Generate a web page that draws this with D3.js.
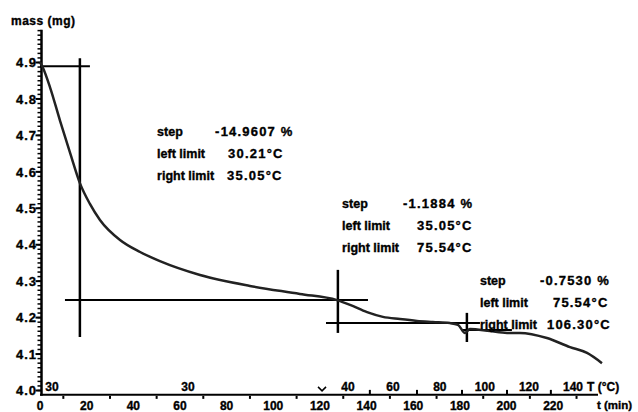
<!DOCTYPE html>
<html>
<head>
<meta charset="utf-8">
<script src="https://cdn.jsdelivr.net/npm/d3@7"></script>
<style>
body { margin: 0; background: #fff; }
text { font-family: "Liberation Sans", Arial, sans-serif; font-weight: bold; fill: #000; stroke: #000; stroke-width: 0.35px; }
</style>
</head>
<body>
<div id="chart"></div>
<script>
// TGA curve: mass (mg) against time (min)
var time = [0, 1.3, 4.3, 8.6, 12.9, 17.1, 21.4, 25.7, 34.3, 42.9, 51.4, 68.6, 90.0, 111.4, 127.3, 132.9, 140.2, 147.0, 154.3, 161.6, 168.4, 175.7, 179.2, 182.2, 184.3, 192.9, 200.2, 205.7, 217.3, 227.2, 234.5, 240.9];
var mass = [4.901, 4.885, 4.832, 4.740, 4.652, 4.569, 4.512, 4.468, 4.413, 4.380, 4.355, 4.317, 4.287, 4.265, 4.248, 4.235, 4.215, 4.202, 4.196, 4.191, 4.188, 4.185, 4.180, 4.158, 4.169, 4.163, 4.158, 4.158, 4.144, 4.119, 4.103, 4.075];

// axis ticks
var massTicks = [4.0, 4.1, 4.2, 4.3, 4.4, 4.5, 4.6, 4.7, 4.8, 4.9];
var timeTicks = [0, 20, 40, 60, 80, 100, 120, 140, 160, 180, 200, 220];
var timeMinor = [10, 30, 50, 70, 90, 110, 130, 150, 170, 190, 210, 230];
// temperature labels along the time axis (time where each label sits)
var tempLabels = ["30", "30", "40", "60", "80", "100", "120", "140"];
var tempTimes = [5.1, 63.4, 132.0, 151.3, 171.4, 190.7, 209.6, 228.5];
var tempMinorTimes = [141.4, 161.6, 180.9, 200.2, 219.0];
var heatStart = 120.9;

// step evaluations
var stepValues = ["-14.9607 %", "-1.1884 %", "-0.7530 %"];
var leftLimits = ["30.21°C", "35.05°C", "75.54°C"];
var rightLimits = ["35.05°C", "75.54°C", "106.30°C"];
var stepTimes = [17.1, 127.7, 183.0];
var stepTop = [4.912, 4.331, 4.213];
var stepBottom = [4.147, 4.158, 4.133];
var textTimes = [50.2, 129.5, 188.6];
var textMass = [4.712, 4.514, 4.303];
// horizontal tangents: level and time span
var tangentMass = [4.890, 4.248, 4.185, 4.166];
var tangentFrom = [0, 10.7, 122.6, 180.9];
var tangentTo = [21.4, 140.6, 188.6, 202.3];

var svgWidth = 638;
var svgHeight = 412;

var svg = d3.select("#chart")
  .append("svg")
  .attr("width", svgWidth)
  .attr("height", svgHeight)
  .style("display", "block");

svg.append("rect")
  .attr("width", svgWidth)
  .attr("height", svgHeight)
  .attr("fill", "#fff");

var x = d3.scaleLinear().domain([0, 220]).range([40, 553.2]);
var y = d3.scaleLinear().domain([4.0, 4.9]).range([390.5, 62.5]);

var axisY = y(3.988);
var axisX = 41.5;

// y axis
svg.append("line")
  .attr("x1", axisX).attr("x2", axisX)
  .attr("y1", y(4.99)).attr("y2", axisY + 1)
  .attr("stroke", "#000").attr("stroke-width", 2.5);

var minor = d3.range(0, 80).map(i => 4.0 + i * 0.0125);
svg.append("g").selectAll("line")
  .data(minor)
  .enter()
  .append("line")
  .attr("x1", axisX - 4).attr("x2", axisX)
  .attr("y1", d => y(d)).attr("y2", d => y(d))
  .attr("stroke", "#000").attr("stroke-width", 1.5);

svg.append("g").selectAll("line")
  .data(massTicks)
  .enter()
  .append("line")
  .attr("x1", axisX - 6).attr("x2", axisX)
  .attr("y1", d => y(d)).attr("y2", d => y(d))
  .attr("stroke", "#000").attr("stroke-width", 2);

svg.append("g").selectAll("text")
  .data(massTicks)
  .enter()
  .append("text")
  .attr("x", 37)
  .attr("y", d => y(d))
  .attr("dy", "0.36em")
  .attr("text-anchor", "end")
  .style("font-size", "13px")
  .style("letter-spacing", "1px")
  .text(d => d.toFixed(1));

svg.append("text")
  .attr("x", 11)
  .attr("y", 25)
  .style("font-size", "12px")
  .style("letter-spacing", "0.5px")
  .text("mass (mg)");

// x axis
svg.append("line")
  .attr("x1", 40).attr("x2", 598)
  .attr("y1", axisY).attr("y2", axisY)
  .attr("stroke", "#000").attr("stroke-width", 2);

svg.append("g").selectAll("line")
  .data(timeMinor)
  .enter()
  .append("line")
  .attr("x1", d => x(d)).attr("x2", d => x(d))
  .attr("y1", axisY + 1).attr("y2", axisY + 4)
  .attr("stroke", "#000").attr("stroke-width", 2);

svg.append("g").selectAll("text")
  .data(timeTicks)
  .enter()
  .append("text")
  .attr("x", d => x(d))
  .attr("y", 409.5)
  .attr("text-anchor", "middle")
  .style("font-size", "12px")
  .text(d => d);

svg.append("text")
  .attr("x", 597)
  .attr("y", 409)
  .style("font-size", "11.5px")
  .text("t (min)");

// temperature labels above the axis
svg.append("g").selectAll("text")
  .data(tempLabels)
  .enter()
  .append("text")
  .attr("x", (d, i) => x(tempTimes[i]))
  .attr("y", 391)
  .attr("text-anchor", "middle")
  .style("font-size", "12px")
  .text(d => d);

svg.append("g").selectAll("line")
  .data(tempMinorTimes)
  .enter()
  .append("line")
  .attr("x1", d => x(d)).attr("x2", d => x(d))
  .attr("y1", axisY - 5).attr("y2", axisY)
  .attr("stroke", "#000").attr("stroke-width", 2);

svg.append("path")
  .attr("d", `M${x(heatStart) - 4},${axisY - 8}L${x(heatStart)},${axisY - 4}L${x(heatStart) + 4},${axisY - 8}`)
  .attr("fill", "none")
  .attr("stroke", "#000").attr("stroke-width", 1.5);

svg.append("text")
  .attr("x", 587)
  .attr("y", 391)
  .style("font-size", "12px")
  .text("T (°C)");

// step markers
svg.append("g").selectAll("line")
  .data(stepTimes)
  .enter()
  .append("line")
  .attr("x1", d => x(d)).attr("x2", d => x(d))
  .attr("y1", (d, i) => y(stepTop[i]))
  .attr("y2", (d, i) => y(stepBottom[i]))
  .attr("stroke", "#000").attr("stroke-width", 2.5);

svg.append("g").selectAll("line")
  .data(tangentMass)
  .enter()
  .append("line")
  .attr("x1", (d, i) => x(tangentFrom[i]))
  .attr("x2", (d, i) => x(tangentTo[i]))
  .attr("y1", d => y(d)).attr("y2", d => y(d))
  .attr("stroke", "#000").attr("stroke-width", 2);

// curve
var line = d3.line()
  .x(d => x(d[0]))
  .y(d => y(d[1]))
  .curve(d3.curveMonotoneX);

svg.append("path")
  .datum(d3.zip(time, mass))
  .attr("d", line)
  .attr("fill", "none")
  .attr("stroke", "#222")
  .attr("stroke-width", 2.5);

// step texts
var rowNames = ["step", "left limit", "right limit"];
var valueOffset = [[58, 71, 70], [61, 75, 75], [60, 73, 67]];

stepValues.forEach(function(v, i) {
  var g = svg.append("g")
    .attr("transform", `translate(${x(textTimes[i])}, ${y(textMass[i])})`);
  var vals = [v, leftLimits[i], rightLimits[i]];
  rowNames.forEach(function(name, r) {
    g.append("text")
      .attr("x", 0)
      .attr("y", r * 22)
      .attr("dy", "0.36em")
      .style("font-size", "12.5px")
      .text(name);
    g.append("text")
      .attr("x", valueOffset[i][r])
      .attr("y", r * 22)
      .attr("dy", "0.36em")
      .style("font-size", "13px")
      .style("letter-spacing", "1.2px")
      .text(vals[r]);
  });
});
</script>
</body>
</html>
